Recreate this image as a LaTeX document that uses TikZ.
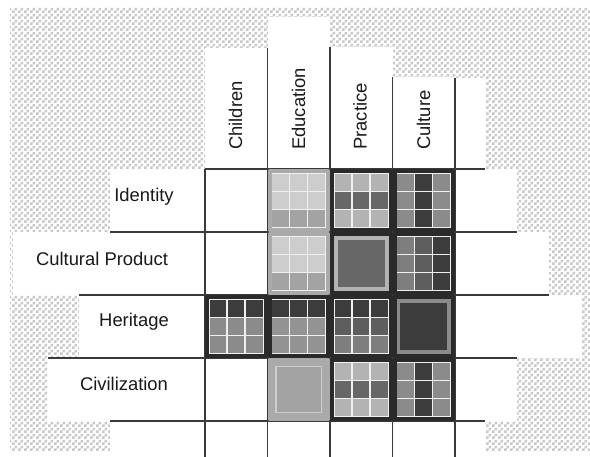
\documentclass[tikz,border=0pt]{standalone}
\usepackage{fontspec}
\setmainfont{Liberation Sans}
\usetikzlibrary{patterns}

\pgfdeclarepatternformonly{checks}{\pgfpointorigin}{\pgfqpoint{6pt}{6pt}}{\pgfqpoint{6pt}{6pt}}{%
  \pgfpathrectangle{\pgfpointorigin}{\pgfqpoint{3pt}{3pt}}%
  \pgfpathrectangle{\pgfqpoint{3pt}{3pt}}{\pgfqpoint{3pt}{3pt}}%
  \pgfusepath{fill}}

\definecolor{checkgray}{HTML}{C8C8C8}
\definecolor{linegray}{HTML}{3A3A3A}
\definecolor{darkrim}{HTML}{2A2A2A}
\definecolor{lightrim}{HTML}{AAAAAA}
\definecolor{gapwhite}{HTML}{F0F0F0}
\definecolor{pale}{HTML}{CDCDCD}
\definecolor{mid}{HTML}{A3A3A3}
\definecolor{soft}{HTML}{B3B3B3}
\definecolor{slate}{HTML}{676767}
\definecolor{ash}{HTML}{8B8B8B}
\definecolor{coal}{HTML}{3C3C3C}
\definecolor{steel}{HTML}{7E7E7E}
\definecolor{iron}{HTML}{5E5E5E}
\definecolor{fog}{HTML}{939393}

\tikzset{
  gridline/.style={linegray, line width=1.1pt},
  cellrim/.style={draw=#1, line width=4pt, line join=round},
  rowlabel/.style={font=\fontsize{18.4}{22}\selectfont, text=black!90, inner sep=0pt},
  collabel/.style={rowlabel, rotate=90, anchor=base west}
}

% one cell split into 3x3 squares, colours row by row
\newcommand{\ninecell}[4]{%
  \draw[cellrim=#3] (#1+2,#2+2) rectangle ++(58.5,59);
  \fill[gapwhite] (#1+4,#2+4) rectangle ++(54.5,55);
  \foreach \c [count=\i from 0] in {#4}{
    \pgfmathtruncatemacro\cc{mod(\i,3)}
    \pgfmathtruncatemacro\rr{div(\i,3)}
    \fill[fill=\c] (#1+4.6+\cc*18.05,#2+4.6+\rr*18.2) rectangle ++(16.8,17);
  }
}
% one cell with a frame and a solid core
\newcommand{\solidcell}[6]{%
  \draw[cellrim=#3] (#1+2,#2+2) rectangle ++(58.5,59);
  \fill[#4] (#1+4,#2+4) rectangle ++(54.5,55);
  \filldraw[fill=#5, draw=#6, line width=1.5pt] (#1+8.5,#2+8.5) rectangle ++(45.5,46);
}

\begin{document}
\begin{tikzpicture}[x=1pt,y=-1pt]
  \useasboundingbox (0,0) rectangle (590,457);
  \fill[white] (0,0) rectangle (590,457);
  % transparent backdrop
  \fill[pattern=checks, pattern color=checkgray] (10,8) rectangle (590,452);

  % white boxes of the table
  \foreach \a/\b/\c/\d in {205/48/267.5/169, 267.5/17/330/169, 330/47/392.5/169,
      392.5/77/455/169, 455/78/485/169,
      110/169/205/232, 13/232/205/295, 79/295/205/358, 48/358/205/421, 110/421/205/457,
      455/169/517/232, 455/232/549/295, 455/295/581/358, 455/358/517/421, 455/421/485/457,
      205/169/455/457}
    \fill[white] (\a,\b) rectangle (\c,\d);

  % grid lines
  \foreach \x/\top in {205/169, 267.5/48, 330/47, 392.5/77, 455/78}
    \draw[gridline] (\x,\top) -- (\x,457);
  \foreach \y/\from/\to in {169/205/485, 232/110/517, 295/79/549, 358/48/517, 421/110/485}
    \draw[gridline] (\from,\y) -- (\to,\y);

  % Identity
  \ninecell{267.5}{169}{lightrim}{pale,pale,pale,pale,pale,pale,mid,mid,mid}
  \ninecell{330}{169}{darkrim}{soft,soft,soft,slate,slate,slate,soft,soft,soft}
  \ninecell{392.5}{169}{darkrim}{ash,coal,ash,ash,coal,ash,ash,coal,ash}
  % Cultural Product
  \ninecell{267.5}{232}{lightrim}{pale,pale,pale,pale,pale,pale,mid,mid,mid}
  \solidcell{330}{232}{darkrim}{soft}{slate}{slate}
  \ninecell{392.5}{232}{darkrim}{steel,iron,coal,steel,iron,coal,steel,iron,coal}
  % Heritage
  \ninecell{205}{295}{darkrim}{coal,coal,coal,ash,ash,ash,ash,ash,ash}
  \ninecell{267.5}{295}{darkrim}{coal,coal,coal,fog,fog,fog,fog,fog,fog}
  \ninecell{330}{295}{darkrim}{coal,coal,coal,iron,iron,iron,steel,steel,steel}
  \solidcell{392.5}{295}{darkrim}{ash}{coal}{coal}
  % Civilization
  \solidcell{267.5}{358}{lightrim}{lightrim}{mid}{pale}
  \ninecell{330}{358}{darkrim}{soft,soft,soft,slate,slate,slate,soft,soft,soft}
  \ninecell{392.5}{358}{darkrim}{ash,coal,ash,ash,coal,ash,ash,coal,ash}

  % labels
  \node[rowlabel] (identity) at (144,197) {Identity};
  \node[rowlabel] (product) at (102,259) {Cultural Product};
  \node[rowlabel] (heritage) at (134,322) {Heritage};
  \node[rowlabel] (civil) at (124,384) {Civilization};

  \node[collabel] (children) at (242,150) {Children};
  \node[collabel] (education) at (305,150) {Education};
  \node[collabel] (practice) at (366.5,150) {Practice};
  \node[collabel] (culture) at (430,150) {Culture};
\end{tikzpicture}
\end{document}
